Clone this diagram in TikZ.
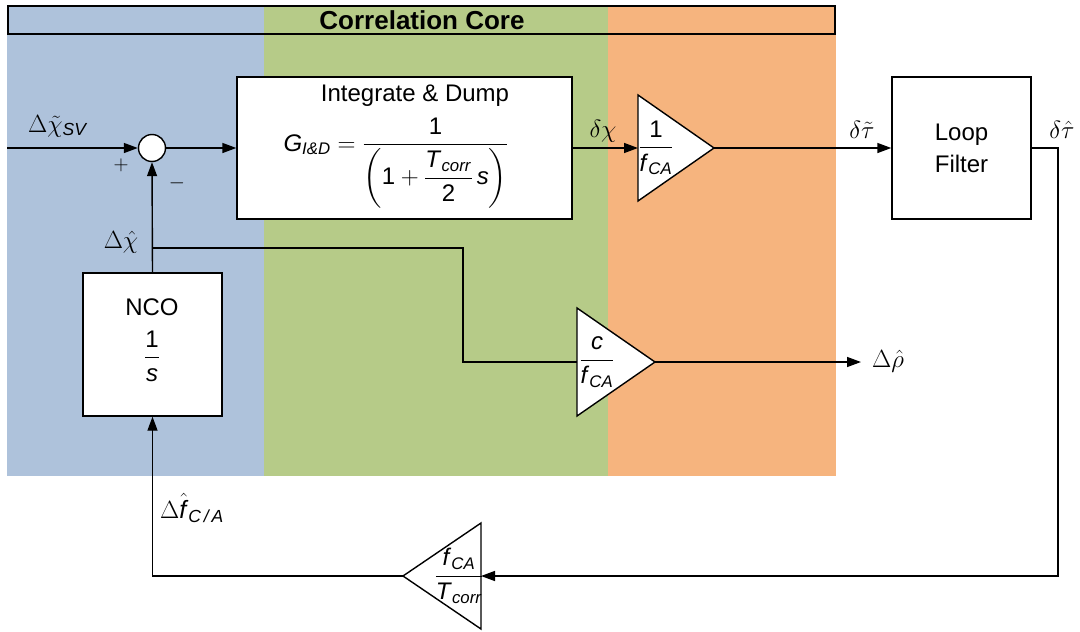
\documentclass[tikz,border=0pt]{standalone}
\usepackage{fontspec}
\setmainfont{Liberation Sans}
\usepackage{amsmath}
\usetikzlibrary{arrows.meta}
\definecolor{bgblue}{RGB}{174,194,219}
\definecolor{bggreen}{RGB}{182,203,136}
\definecolor{bgorange}{RGB}{246,180,126}
\newcommand{\vi}[1]{\text{\textit{#1}}}
\newcommand{\vu}[1]{\text{#1}}
\begin{document}
\begin{tikzpicture}[x=1pt,y=-1pt,
  wire/.style={line width=1.4pt},
  arr/.style={wire,-{Triangle[length=14pt,width=10pt]}},
  block/.style={draw,line width=1.4pt,fill=white,inner sep=0pt},
  sumnode/.style={circle,draw,line width=1.4pt,fill=white,minimum size=27pt,inner sep=0pt},
  gain/.style={draw,line width=1.4pt,fill=white,line join=miter},
  lbl/.style={inner sep=0pt,font=\fontsize{25}{28}\selectfont},
  txt/.style={inner sep=0pt,font=\fontsize{24}{30}\selectfont}]
\useasboundingbox (0,0) rectangle (1080,632);
% backgrounds
\fill[bgblue] (7,5) rectangle (264,476);
\fill[bggreen] (264,5) rectangle (608,476);
\fill[bgorange] (608,5) rectangle (836,476);
\draw[line width=2.6pt] (8,6) rectangle (835,34);
\node[inner sep=0pt,font=\fontsize{26}{28}\selectfont\bfseries] (title) at (422,20) {Correlation Core};
% blocks
\node[sumnode] (sum) at (152,148) {};
\node[block,minimum width=335pt,minimum height=142pt] (id) at (404.5,148) {};
\node[txt] (idt) at (415,96) {Integrate \& Dump};
\node[txt] (idf) at (396,163) {$\vi{G}_{\vi{I\&D}}=\dfrac{\vu{1}}{\left(\vu{1}+\dfrac{\vi{T}_{\vi{corr}}}{\vu{2}}\,\vi{s}\right)}$};
\node[block,minimum width=139pt,minimum height=142pt,align=center,font=\fontsize{24}{32}\selectfont] (lf) at (961.5,148) {Loop\\Filter};
\node[block,minimum width=139pt,minimum height=143pt] (nco) at (152.5,344.5) {};
\node[txt] (ncot) at (152,307) {NCO};
\node[txt] (ncof) at (152,356) {$\dfrac{\vu{1}}{\vi{s}}$};
% gain triangles
\draw[gain] (638,95) -- (714,148) -- (638,201) -- cycle;
\coordinate (t1in) at (638,148); \coordinate (t1tip) at (714,148);
\node[txt] (t1f) at (656,148) {$\dfrac{\vu{1}}{\vi{f}_{\vi{CA}}}$};
\draw[gain] (577,308) -- (655,362) -- (577,416) -- cycle;
\coordinate (t2in) at (577,362); \coordinate (t2tip) at (655,362);
\node[txt] (t2f) at (597,362) {$\dfrac{\vi{c}}{\vi{f}_{\vi{CA}}}$};
\draw[gain] (481,523) -- (403,576) -- (481,629) -- cycle;
\coordinate (t3in) at (481,576); \coordinate (t3tip) at (403,576);
\node[txt] (t3f) at (459,576) {$\dfrac{\vi{f}_{\vi{CA}}}{\vi{T}_{\vi{corr}}}$};
% connectors
\coordinate (in) at (7,148);
\coordinate (c1) at (1058,576);
\coordinate (j) at (152,248);
\coordinate (c2) at (463,362);
\coordinate (out) at (861,362);
\draw[arr] (in) -- (sum.west);
\draw[arr] (sum.east) -- (id.west);
\draw[arr] (id.east) -- (t1in);
\draw[arr] (t1tip) -- (lf.west);
\draw[arr] (lf.east) -| (c1) -- (t3in);
\draw[arr] (t3tip) -| (nco.south);
\draw[arr] (nco.north) -- (sum.south);
\draw[wire] (j) -| (c2) -- (t2in);
\draw[arr] (t2tip) -- (out);
% labels
\node[lbl] (l1) at (58,126) {$\Delta\tilde{\chi}_{\vi{SV}}$};
\node[lbl,font=\fontsize{20}{24}\selectfont] (lp) at (121,165) {$+$};
\node[lbl,font=\fontsize{20}{24}\selectfont] (lm) at (177,183) {$-$};
\node[lbl] (l2) at (121,242) {$\Delta\hat{\chi}$};
\node[lbl] (l3) at (603,131) {$\delta\chi$};
\node[lbl] (l4) at (862,130) {$\delta\tilde{\tau}$};
\node[lbl] (l5) at (1062,130) {$\delta\hat{\tau}$};
\node[lbl] (l6) at (888,361) {$\Delta\hat{\rho}$};
\node[lbl] (l7) at (192,508) {$\Delta\hat{\vi{f}}_{\vi{C\,/\,A}}$};
\end{tikzpicture}
\end{document}
